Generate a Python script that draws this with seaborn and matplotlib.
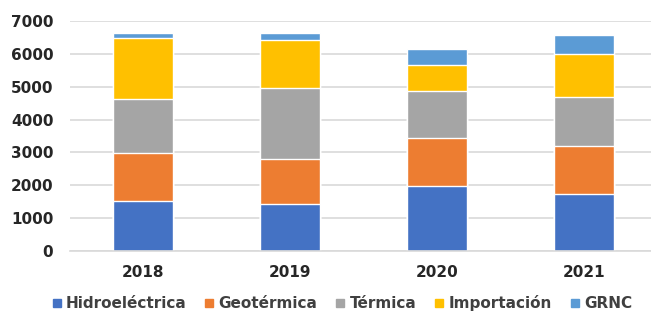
import numpy as np
import pandas as pd
import matplotlib
matplotlib.use('Agg')
import matplotlib.pyplot as plt
import seaborn as sns
from matplotlib.lines import Line2D

years = ['2018', '2019', '2020', '2021']
sources = ['Hidroeléctrica', 'Geotérmica', 'Térmica', 'Importación', 'GRNC']
hidro = [1520, 1425, 1965, 1720]
geo = [1450, 1375, 1465, 1475]
termica = [1670, 2175, 1445, 1485]
importacion = [1840, 1455, 775, 1310]
grnc = [140, 200, 490, 570]
colors = ['#4472C4', '#ED7D31', '#A5A5A5', '#FFC000', '#5B9BD5']

sns.set_theme(style='white')
plt.rcParams['font.family'] = ['DejaVu Sans']

values = np.array([hidro, geo, termica, importacion, grnc])
cumulative = values.cumsum(axis=0)

fig = plt.figure(figsize=(6.51, 3.13), dpi=100)
ax = fig.add_axes([70 / 651, 62 / 313, 587 / 651, 230 / 313])

# draw cumulative totals from the top segment down so each layer shows
for i in range(len(sources) - 1, -1, -1):
    df = pd.DataFrame({'year': years, 'total': cumulative[i]})
    sns.barplot(data=df, x='year', y='total', color=colors[i], width=0.41,
                saturation=1, ax=ax, zorder=2)

ax.set_ylim(0, 7000)
ax.set_xlim(-0.5, 3.5)
ax.set_yticks(range(0, 7001, 1000))
ax.yaxis.grid(True, color='#D9D9D9', linewidth=1.2, zorder=0)
ax.set_axisbelow(True)
for side in ['top', 'right', 'left']:
    ax.spines[side].set_visible(False)
ax.spines['bottom'].set_color('#D9D9D9')
ax.spines['bottom'].set_linewidth(1.2)
ax.set_xlabel('')
ax.set_ylabel('')
ax.tick_params(axis='both', length=0, labelsize=11, labelcolor='#262626')
ax.tick_params(axis='x', pad=10)
ax.tick_params(axis='y', pad=12)
for lbl in ax.get_xticklabels() + ax.get_yticklabels():
    lbl.set_fontweight('bold')

handles = [Line2D([0], [0], marker='s', linestyle='', markersize=6,
                  markerfacecolor=c, markeredgecolor=c) for c in colors]
fig.legend(handles, sources, loc='center', bbox_to_anchor=(342 / 651, 1 - 303 / 313),
           ncol=5, frameon=False, handlelength=0.6, handletextpad=0.3,
           columnspacing=1.2, borderpad=0, borderaxespad=0,
           prop={'weight': 'bold', 'size': 11}, labelcolor='#404040')

fig.savefig('out.png', dpi=100)
plt.close(fig)
